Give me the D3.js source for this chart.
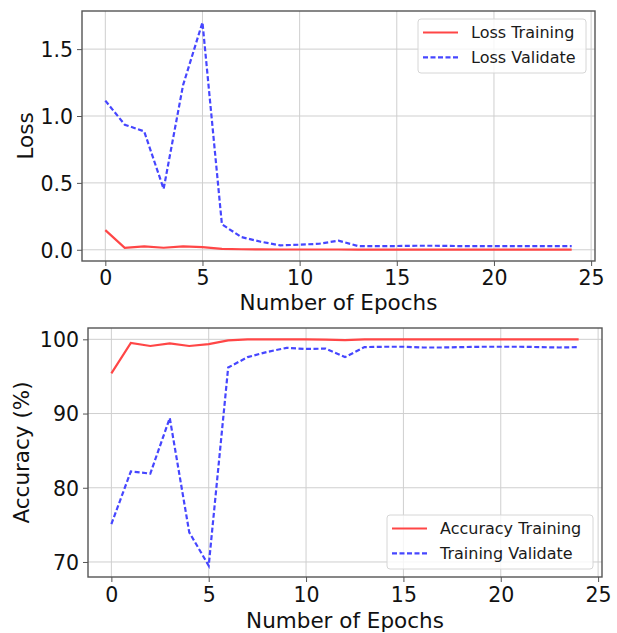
<!DOCTYPE html>
<html>
<head>
<meta charset="utf-8">
<script src="https://cdn.jsdelivr.net/npm/d3@7"></script>
<style>
  html, body { margin: 0; padding: 0; background: #fff; }
  svg { display: block; font-family: "DejaVu Sans", sans-serif; }
</style>
</head>
<body>
<svg id="chart" width="617" height="633"></svg>
<script>
// Training history per epoch
const epochs = d3.range(25);
const lossTraining = [0.147, 0.015, 0.025, 0.015, 0.025, 0.020, 0.007, 0.004, 0.003, 0.002,
  0.002, 0.002, 0.002, 0.001, 0.001, 0.001, 0.001, 0.001, 0.001, 0.001,
  0.001, 0.001, 0.001, 0.001, 0.001];
const lossValidate = [1.115, 0.935, 0.885, 0.455, 1.230, 1.700, 0.190, 0.095, 0.060, 0.033,
  0.038, 0.045, 0.068, 0.028, 0.027, 0.028, 0.030, 0.030, 0.028, 0.028,
  0.028, 0.028, 0.028, 0.028, 0.028];
const accTraining = [95.4, 99.5, 99.1, 99.45, 99.1, 99.35, 99.85, 99.98, 100, 100,
  100, 99.95, 99.9, 100, 100, 100, 100, 100, 100, 100,
  100, 100, 100, 100, 100];
const accValidate = [75.1, 82.2, 81.9, 89.4, 74.0, 69.5, 96.2, 97.6, 98.3, 98.85,
  98.7, 98.75, 97.6, 98.95, 99.0, 99.0, 98.9, 98.9, 98.95, 99.0,
  99.0, 99.0, 98.95, 98.9, 98.95];

const xTicks = [0, 5, 10, 15, 20, 25];
const lossTicks = [0.0, 0.5, 1.0, 1.5];
const accTicks = [70, 80, 90, 100];

const lossLegend = ["Loss Training", "Loss Validate"];
const accLegend = ["Accuracy Training", "Training Validate"];

const RED = "rgb(255,70,70)";
const BLUE = "rgb(70,70,255)";
const TICK_FS = 20.5, LABEL_FS = 21.5, LEGEND_FS = 16;

const svg = d3.select("#chart");

// extent padded by 5% on each side
function padded(values) {
  const [lo, hi] = d3.extent(values);
  const m = (hi - lo) * 0.05;
  return [lo - m, hi + m];
}

function panel(cfg) {
  const { left, right, top, bottom } = cfg.box;
  const x = d3.scaleLinear().domain(padded(epochs)).range([left, right]);
  const y = d3.scaleLinear().domain(padded(cfg.series[0].concat(cfg.series[1]))).range([bottom, top]);
  const g = svg.append("g");

  // grid
  g.append("g").selectAll("line").data(xTicks).join("line")
    .attr("x1", d => x(d)).attr("x2", d => x(d)).attr("y1", top).attr("y2", bottom)
    .attr("stroke", "#cfcfcf").attr("stroke-width", 1);
  g.append("g").selectAll("line").data(cfg.yTicks).join("line")
    .attr("x1", left).attr("x2", right).attr("y1", d => y(d)).attr("y2", d => y(d))
    .attr("stroke", "#cfcfcf").attr("stroke-width", 1);

  // axes
  const xAxis = g.append("g").attr("transform", `translate(0,${bottom})`)
    .call(d3.axisBottom(x).tickValues(xTicks).tickSize(5).tickPadding(5).tickFormat(d3.format("d")));
  const yAxis = g.append("g").attr("transform", `translate(${left},0)`)
    .call(d3.axisLeft(y).tickValues(cfg.yTicks).tickSize(5).tickPadding(4).tickFormat(cfg.fmt));
  [xAxis, yAxis].forEach(a => {
    a.select(".domain").remove();
    a.selectAll(".tick line").attr("stroke", "#555").attr("stroke-width", 1);
    a.selectAll(".tick text").attr("fill", "#111").attr("font-size", TICK_FS)
      .attr("font-family", "DejaVu Sans");
  });
  xAxis.selectAll(".tick text").attr("dy", null).attr("y", cfg.xTickBase - bottom);
  yAxis.selectAll(".tick text").attr("dy", "0.36em");

  // series
  const line = d3.line().x((d, i) => x(epochs[i])).y(d => y(d));
  g.append("path").datum(cfg.series[0]).attr("d", line)
    .attr("fill", "none").attr("stroke", RED).attr("stroke-width", 2.2);
  g.append("path").datum(cfg.series[1]).attr("d", line)
    .attr("fill", "none").attr("stroke", BLUE).attr("stroke-width", 2.2)
    .attr("stroke-dasharray", "5,2.5");

  // frame
  g.append("rect").attr("x", left).attr("y", top)
    .attr("width", right - left).attr("height", bottom - top)
    .attr("fill", "none").attr("stroke", "#555").attr("stroke-width", 1.4);

  // axis titles
  g.append("text").attr("x", (left + right) / 2).attr("y", cfg.xLabelBase)
    .attr("text-anchor", "middle").attr("font-size", LABEL_FS).attr("fill", "#111")
    .text("Number of Epochs");
  g.append("text")
    .attr("transform", `translate(${cfg.yLabelX},${(top + bottom) / 2}) rotate(-90)`)
    .attr("text-anchor", "middle").attr("font-size", LABEL_FS).attr("fill", "#111")
    .text(cfg.yLabel);

  // legend
  const L = cfg.legend;
  const lg = g.append("g");
  lg.append("rect").attr("x", L.x).attr("y", L.y).attr("width", L.w).attr("height", L.h)
    .attr("rx", 3).attr("fill", "rgba(255,255,255,0.8)").attr("stroke", "#d6d6d6").attr("stroke-width", 1);
  cfg.legendText.forEach((t, i) => {
    const cy = L.y + 13.5 + i * 24.8;
    lg.append("line").attr("x1", L.x + 5).attr("x2", L.x + 40).attr("y1", cy).attr("y2", cy)
      .attr("stroke", i === 0 ? RED : BLUE).attr("stroke-width", 2.2)
      .attr("stroke-dasharray", i === 0 ? null : "5,2.5");
    lg.append("text").attr("x", L.x + 53).attr("y", cy).attr("dy", "0.36em")
      .attr("font-size", LEGEND_FS).attr("fill", "#1a1a1a").text(t);
  });
}

panel({
  box: { left: 82, right: 595, top: 11, bottom: 261 },
  series: [lossTraining, lossValidate],
  yTicks: lossTicks, fmt: d3.format(".1f"),
  xTickBase: 285, xLabelBase: 310, yLabel: "Loss", yLabelX: 33,
  legend: { x: 418, y: 19, w: 168, h: 54 },
  legendText: lossLegend
});

panel({
  box: { left: 88, right: 602, top: 328, bottom: 577 },
  series: [accTraining, accValidate],
  yTicks: accTicks, fmt: d3.format("d"),
  xTickBase: 602, xLabelBase: 628, yLabel: "Accuracy (%)", yLabelX: 29,
  legend: { x: 387, y: 515, w: 206, h: 54 },
  legendText: accLegend
});
</script>
</body>
</html>
